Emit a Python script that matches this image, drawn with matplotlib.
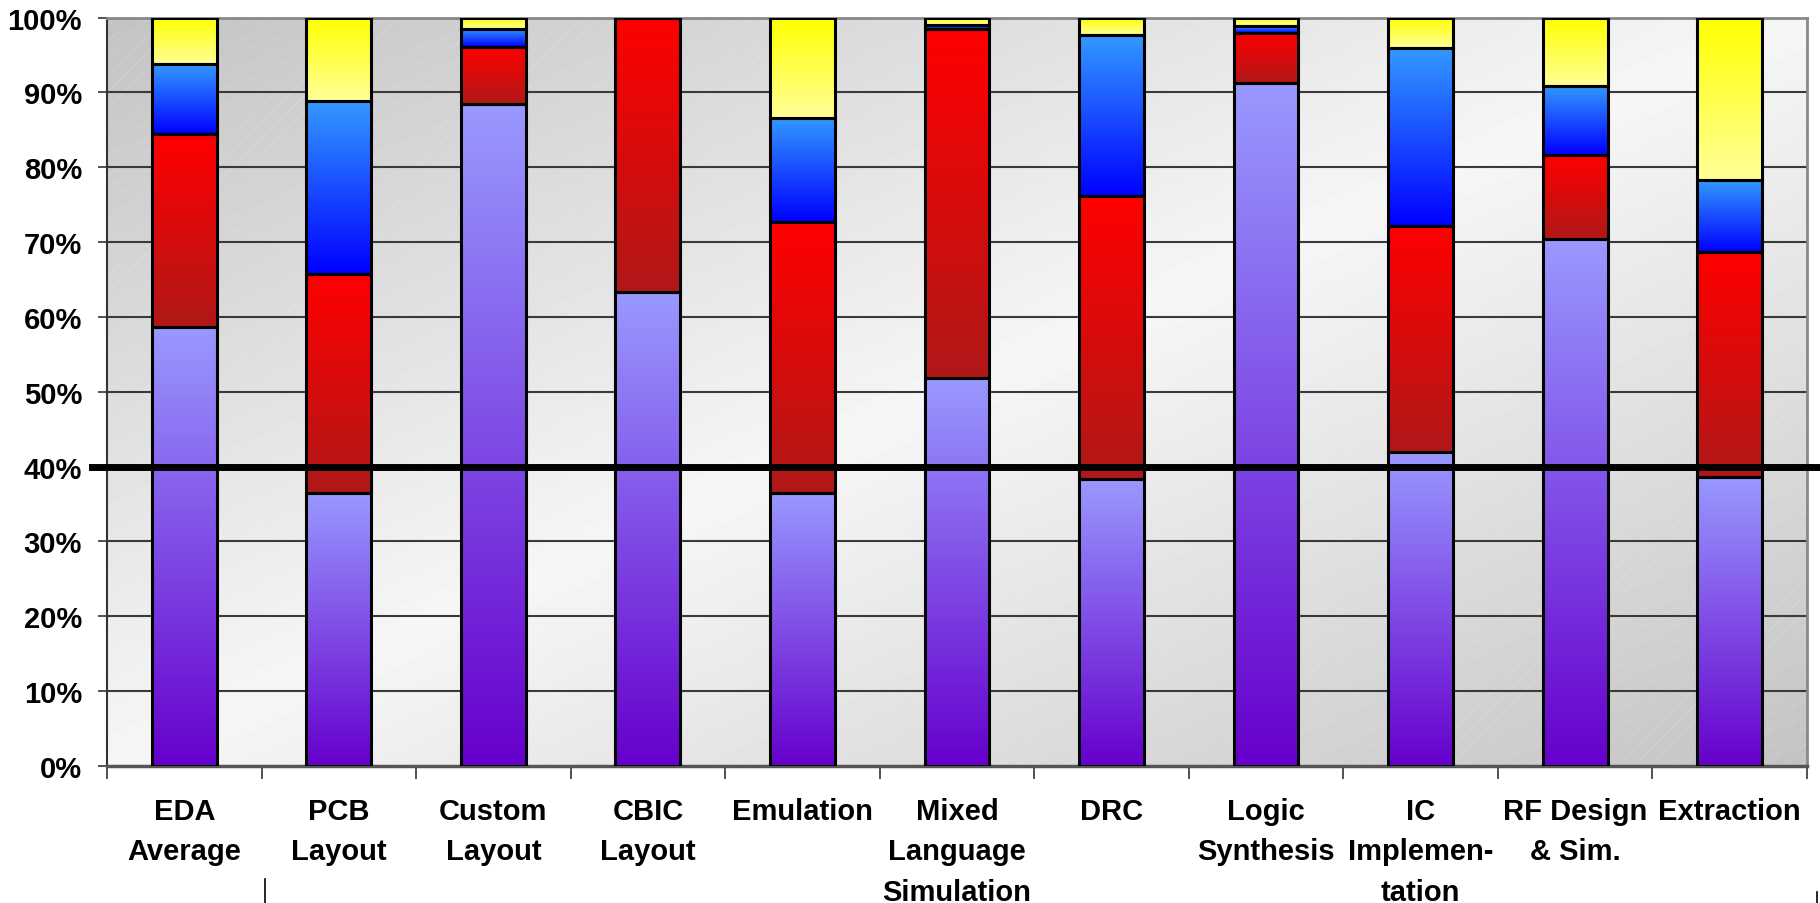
import numpy as np
import matplotlib.pyplot as plt
from matplotlib.colors import LinearSegmentedColormap, to_rgb
from matplotlib.patches import Rectangle

plt.rcParams['font.family'] = ['Liberation Sans', 'DejaVu Sans']
plt.rcParams['hatch.linewidth'] = 0.5

# data (percent share of each segment)
categories = ["EDA\nAverage", "PCB\nLayout", "Custom\nLayout", "CBIC\nLayout",
              "Emulation", "Mixed\nLanguage\nSimulation", "DRC", "Logic\nSynthesis",
              "IC\nImplemen-\ntation", "RF Design\n& Sim.", "Extraction"]
purple = [58.6, 36.5, 88.4, 63.3, 36.5, 51.8, 38.3, 91.3, 42.0, 70.4, 38.6]
red = [25.9, 29.3, 7.6, 36.7, 36.2, 46.7, 37.9, 6.7, 30.2, 11.2, 30.1]
blue = [9.3, 23.0, 2.5, 0.0, 13.9, 0.5, 21.5, 0.9, 23.7, 9.3, 9.6]
yellow = [6.2, 11.2, 1.5, 0.0, 13.4, 1.0, 2.3, 1.1, 4.1, 9.1, 21.7]
yticks = list(range(0, 101, 10))
threshold = 40

# (top colour, bottom colour) for each series gradient
series = [(purple, '#9999ff', '#6600cc'),
          (red, '#ff0000', '#b01818'),
          (blue, '#3399ff', '#0000ff'),
          (yellow, '#ffff00', '#ffff99')]

fig = plt.figure(figsize=(18.2, 9.04), dpi=100)
ax = fig.add_axes([0.0588, 0.1515, 0.934, 0.828])

n = len(categories)
x = np.arange(n)
width = 0.42

# background: diagonal grey gradient, light band from bottom-left to top-right
gx, gy = np.meshgrid(np.linspace(0, 1, 400), np.linspace(1, 0, 200))
t = np.abs(gx - gy)
bg = 0.965 - 0.20 * t
ax.imshow(bg, cmap='gray', vmin=0, vmax=1, extent=[0, 1, 0, 1],
          transform=ax.transAxes, aspect='auto', zorder=0, interpolation='bilinear')
# faint diagonal texture
ax.add_patch(Rectangle((0, 0), 1, 1, transform=ax.transAxes, fill=False, hatch='//',
                       edgecolor=(1, 1, 1, 0.2), linewidth=0, zorder=0.5))

# grid lines
for yv in yticks[1:-1]:
    ax.axhline(yv, color='#3a3a3a', lw=1.5, zorder=1)

# stacked bars with vertical gradients
grad = np.linspace(0, 1, 256).reshape(-1, 1)
bottom = np.zeros(n)
for vals, ctop, cbot in series:
    vals = np.array(vals)
    cmap = LinearSegmentedColormap.from_list('g', [to_rgb(cbot), to_rgb(ctop)])
    for i in range(n):
        if vals[i] <= 0:
            continue
        ax.imshow(grad, cmap=cmap, origin='lower', aspect='auto',
                  extent=[x[i] - width / 2, x[i] + width / 2, bottom[i], bottom[i] + vals[i]],
                  zorder=2, interpolation='bilinear')
    ax.bar(x, vals, width, bottom=bottom, facecolor='none', edgecolor='black',
           linewidth=2.2, zorder=3)
    bottom += vals

# thick threshold line
ax.axhline(threshold, xmin=-0.009, xmax=1.01, color='black', lw=5, zorder=4, clip_on=False)

ax.set_xlim(-0.5, n - 0.5)
ax.set_ylim(0, 100)

ax.set_yticks(yticks)
ax.set_yticklabels([f'{v}%' for v in yticks], fontsize=21, fontweight='bold')
ax.tick_params(axis='y', length=6.5, width=1.2, pad=11.5, color='#333333')

ax.set_xticks(np.arange(-0.5, n, 1.0))
ax.set_xticklabels([])
ax.tick_params(axis='x', which='major', length=9, width=1.2, color='#333333')
ax.set_xticks(x, minor=True)
ax.set_xticklabels(categories, minor=True, fontsize=21, fontweight='bold', linespacing=1.58)
ax.tick_params(axis='x', which='minor', length=0, pad=22)

for side in ['top', 'right']:
    ax.spines[side].set_color('#888888')
    ax.spines[side].set_linewidth(2)
ax.spines['left'].set_color('#333333')
ax.spines['left'].set_linewidth(1.5)
ax.spines['bottom'].set_color('#555555')
ax.spines['bottom'].set_linewidth(2.5)

# small stray marks at the bottom of the original slide
fig.add_artist(plt.Line2D([0.1456, 0.1456], [0.0, 0.0265], color='black', lw=1.2))
fig.add_artist(plt.Line2D([0.9985, 0.9985], [0.0, 0.012], color='black', lw=1.2))

fig.savefig('out.png', dpi=100)
